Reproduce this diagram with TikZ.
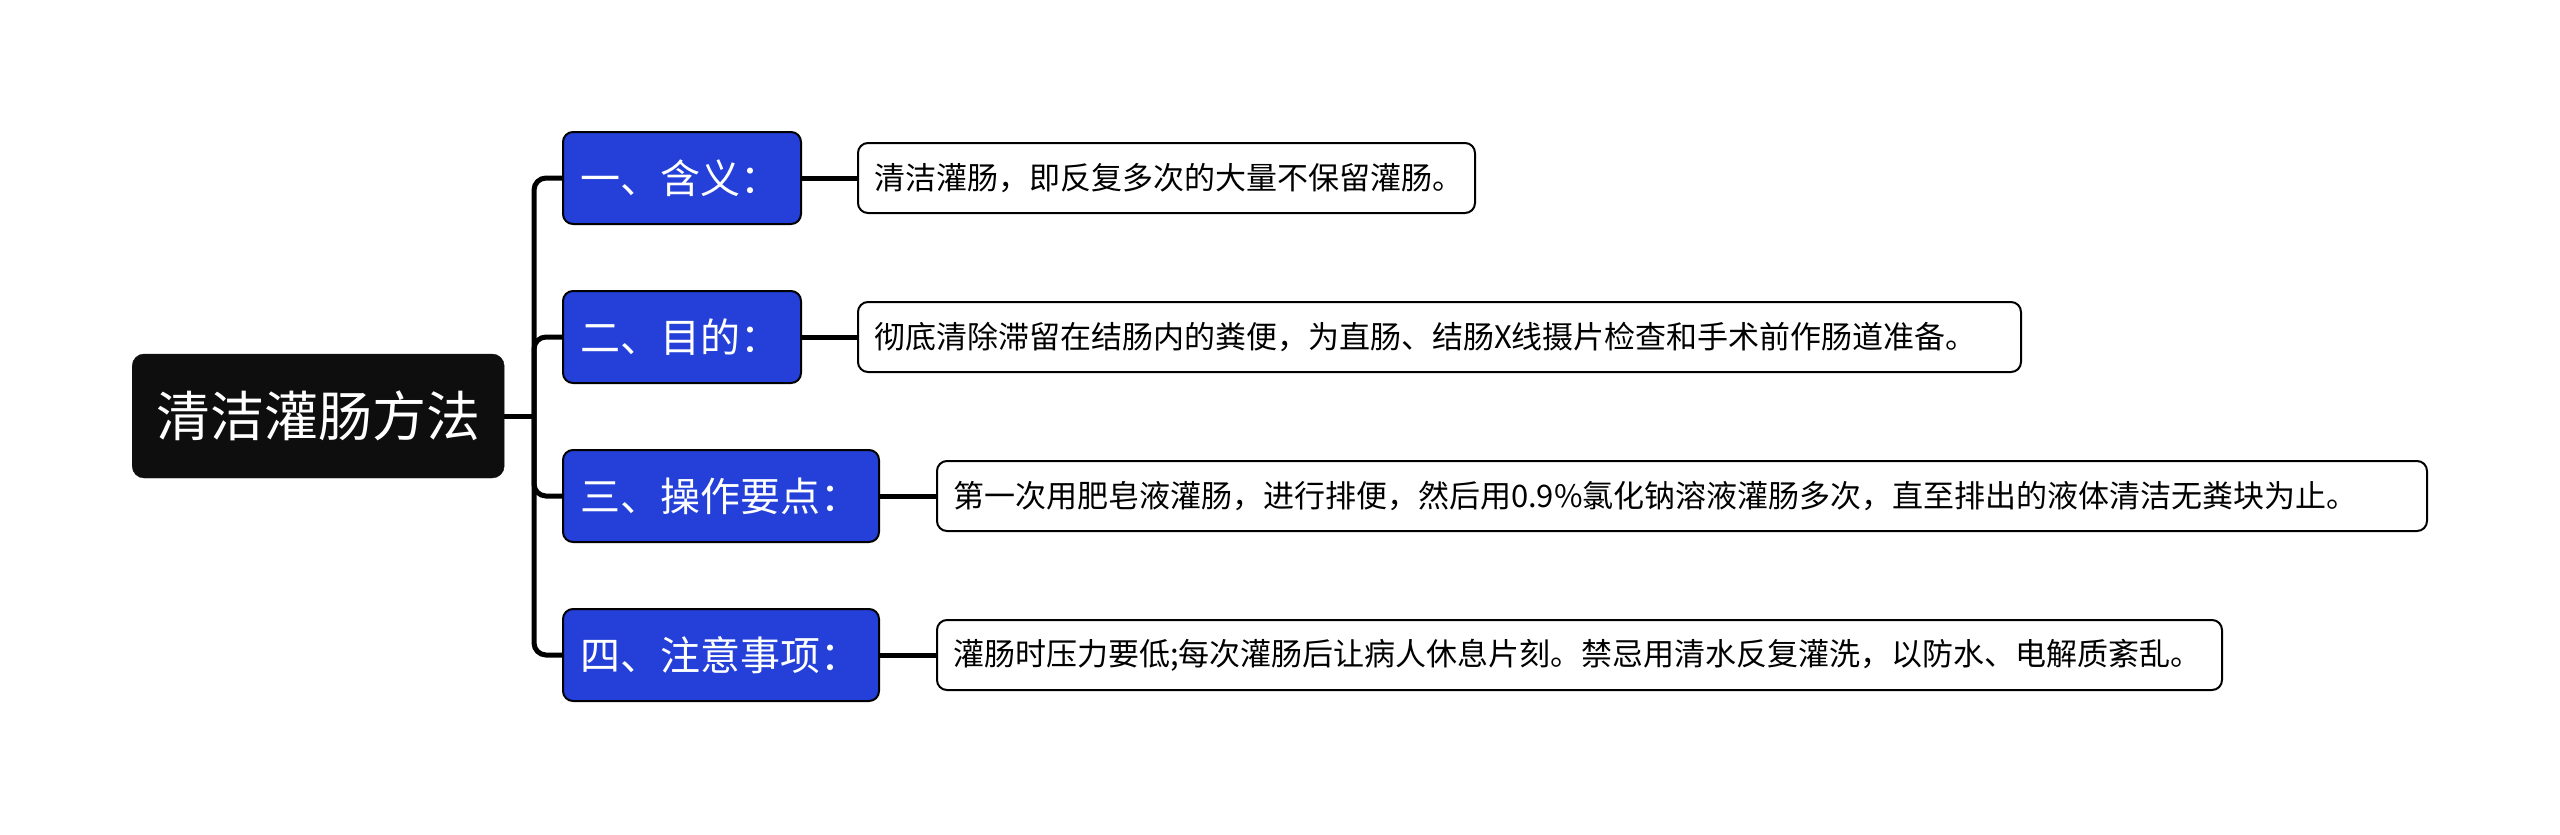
\documentclass[tikz,border=0pt]{standalone}
\usepackage{fontspec}
\setmainfont{Noto Sans CJK SC}
\definecolor{bluebox}{HTML}{2440D8}
\definecolor{rootc}{HTML}{0E0E0E}
\begin{document}
\begin{tikzpicture}[x=1pt,y=-1pt,
  rootbox/.style={draw=rootc, fill=rootc, rounded corners=12pt, text=white,
    font=\fontsize{54}{62}\selectfont, minimum width=372pt, minimum height=124pt,
    inner sep=0pt, anchor=west},
  catbox/.style={draw=black, line width=2pt, fill=bluebox, rounded corners=10pt,
    text=white, font=\fontsize{40}{46}\selectfont, minimum height=92pt,
    inner ysep=0pt, inner xsep=17pt, align=left, anchor=west},
  descbox/.style={draw=black, line width=2pt, fill=white, rounded corners=10pt,
    font=\fontsize{31}{37}\selectfont, minimum height=70pt,
    inner ysep=0pt, inner xsep=16pt, align=left, anchor=west},
  link/.style={line width=5pt, draw=black, rounded corners=12pt}]
\useasboundingbox (0,0) rectangle (2560,835);

\node[rootbox] (root) at (132,416) {清洁灌肠方法};

\node[catbox, text width=204pt] (c1) at (562,178) {一、含义：};
\node[catbox, text width=204pt] (c2) at (562,337) {二、目的：};
\node[catbox, text width=282pt] (c3) at (562,496) {三、操作要点：};
\node[catbox, text width=282pt] (c4) at (562,655) {四、注意事项：};

\node[descbox, text width=585pt] (d1) at (857,178) {清洁灌肠，即反复多次的大量不保留灌肠。};
\node[descbox, text width=1131pt] (d2) at (857,337) {彻底清除滞留在结肠内的粪便，为直肠、结肠X线摄片检查和手术前作肠道准备。};
\node[descbox, text width=1458pt] (d3) at (936,496) {第一次用肥皂液灌肠，进行排便，然后用0.9\%氯化钠溶液灌肠多次，直至排出的液体清洁无粪块为止。};
\node[descbox, text width=1253pt] (d4) at (936,655) {灌肠时压力要低;每次灌肠后让病人休息片刻。禁忌用清水反复灌洗，以防水、电解质紊乱。};

\coordinate (trunk) at (534,416);
\draw[link] (root.east) -- (trunk);
\foreach \c in {c1,c2,c3,c4} {
  \draw[link] (trunk) |- (\c.west);
}
\draw[link] (c1.east) -- (d1.west);
\draw[link] (c2.east) -- (d2.west);
\draw[link] (c3.east) -- (d3.west);
\draw[link] (c4.east) -- (d4.west);
\end{tikzpicture}
\end{document}
